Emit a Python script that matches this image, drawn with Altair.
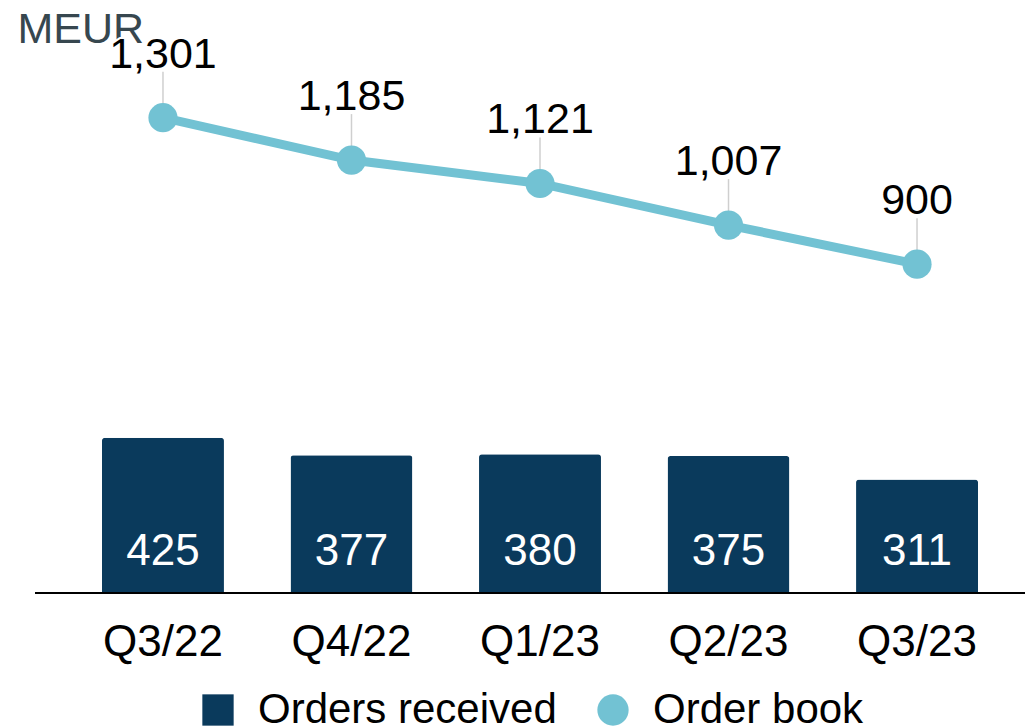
import altair as alt
import pandas as pd

quarters = ["Q3/22", "Q4/22", "Q1/23", "Q2/23", "Q3/23"]
orders_received = [425, 377, 380, 375, 311]
order_book = [1301, 1185, 1121, 1007, 900]

df = pd.DataFrame({"quarter": quarters, "orders": orders_received, "book": order_book})

NAVY = "#0a3a5c"
LIGHT = "#72c2d3"
FONT = "Liberation Sans"
FS = 44

series_domain = ["Orders received", "Order book"]
color_scale = alt.Scale(domain=series_domain, range=[NAVY, LIGHT])
shape_scale = alt.Scale(domain=series_domain, range=["square", "circle"])

legend = alt.Legend(
    title=None, orient="none", direction="horizontal",
    legendX=142, legendY=644, labelFontSize=42, labelFont=FONT, labelColor="black",
    labelLimit=0, symbolSize=980, symbolStrokeWidth=0, labelOffset=19, columnPadding=35,
    padding=0,
)

x = alt.X("quarter:N", sort=quarters,
          scale=alt.Scale(paddingInner=0.353, paddingOuter=0.2493, round=False),
          axis=alt.Axis(title=None, domain=False, ticks=False, grid=False, labelAngle=0,
                        labelFontSize=FS, labelFont=FONT, labelColor="black", labelPadding=27))
yscale = alt.Scale(domain=[0, 1500], nice=False, zero=True)

base = alt.Chart(df)

bars = base.transform_calculate(series='"Orders received"').mark_bar(
    cornerRadiusTopLeft=3, cornerRadiusTopRight=3
).encode(
    x=x,
    y=alt.Y("orders:Q", scale=yscale,
            axis=alt.Axis(title="MEUR", domain=False, ticks=False, labels=False, grid=False,
                          titleAngle=0, titleX=-38, titleY=-3, titleAlign="left",
                          titleBaseline="alphabetic", titleFontSize=43, titleFont=FONT,
                          titleFontWeight="normal", titleColor="#37474f")),
    color=alt.Color("series:N", scale=color_scale, legend=legend),
)

bar_labels = base.mark_text(color="white", fontSize=FS, font=FONT, dy=-41, baseline="middle").encode(
    x=alt.X("quarter:N", sort=quarters),
    y=alt.Y(datum=0),
    text=alt.Text("orders:Q", format=","),
)

baseline = base.mark_rule(color="black", strokeWidth=2).encode(
    y=alt.Y(datum=0), x=alt.value(-20), x2=alt.value(970)
)

leaders = base.mark_rule(color="#cfcfcf", strokeWidth=1.5, yOffset=-12, y2Offset=-46).encode(
    x=alt.X("quarter:N", sort=quarters), y="book:Q", y2="book:Q"
)

line = base.mark_line(color=LIGHT, strokeWidth=9).encode(
    x=alt.X("quarter:N", sort=quarters), y="book:Q"
)

points = base.transform_calculate(series='"Order book"').mark_point(
    filled=True, size=850, opacity=1, strokeWidth=0
).encode(
    x=alt.X("quarter:N", sort=quarters), y="book:Q",
    color=alt.Color("series:N", scale=color_scale, legend=legend),
    shape=alt.Shape("series:N", scale=shape_scale, legend=legend),
)

halo = base.mark_text(fontSize=43, font=FONT, dy=-63, baseline="middle",
                      stroke="white", strokeWidth=4, fill="white", strokeJoin="round").encode(
    x=alt.X("quarter:N", sort=quarters), y="book:Q", text=alt.Text("book:Q", format=",")
)
line_labels = base.mark_text(fontSize=43, font=FONT, dy=-63, baseline="middle", color="black").encode(
    x=alt.X("quarter:N", sort=quarters), y="book:Q", text=alt.Text("book:Q", format=",")
)

chart = alt.layer(bars, bar_labels, baseline, leaders, line, points, halo, line_labels).properties(
    width=970, height=548,
    padding={"left": 47, "top": 37, "right": 0, "bottom": 133},
    autosize="none",
    background="white",
).configure_view(stroke="transparent", strokeWidth=0).configure_axis(grid=False)

chart.save("out.html", embed_options={"renderer": "svg", "actions": False})
